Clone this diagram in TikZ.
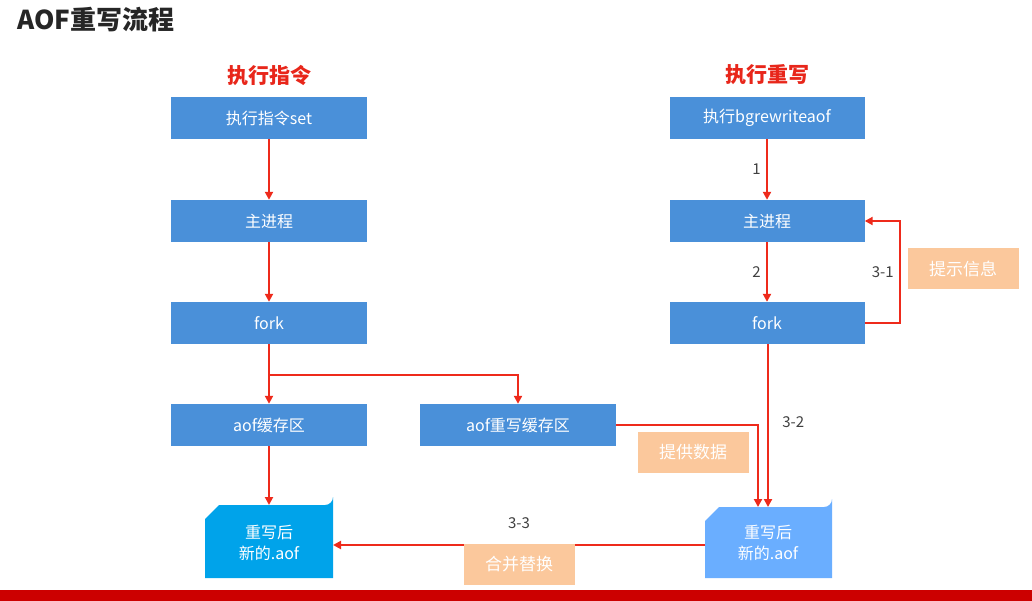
\documentclass[tikz,border=0pt]{standalone}
\usepackage{fontspec}
\setmainfont{Noto Sans CJK SC}
\usetikzlibrary{arrows.meta}
\definecolor{boxblue}{HTML}{4A90D9}
\definecolor{fileA}{HTML}{00A3EA}
\definecolor{fileB}{HTML}{6AAEFF}
\definecolor{arr}{HTML}{EE2A1B}
\definecolor{tag}{HTML}{FBC89C}
\definecolor{hdr}{HTML}{E8261A}
\begin{document}
\begin{tikzpicture}[x=1pt,y=-1pt,
  bx/.style={fill=boxblue,text=white,minimum width=196pt,minimum height=42pt,inner sep=0pt,font=\fontsize{16}{18}\selectfont},
  tg/.style={fill=tag,text=white,minimum width=111pt,minimum height=41pt,inner sep=0pt,font=\fontsize{17}{19}\selectfont},
  ar/.style={draw=arr,line width=2pt,-{Triangle[length=8pt,width=8pt]}},
  lb/.style={font=\fontsize{15}{17}\selectfont,text=black!75}]
\fill[white] (0,0) rectangle (1032,601);
\fill[red!80!black] (0,590) rectangle (1032,601);
\node[anchor=west,font=\bfseries\fontsize{26}{28}\selectfont,text=black!85] (title) at (14,20) {AOF重写流程};
\node[font=\bfseries\fontsize{21}{23}\selectfont,text=hdr] (h1) at (269,75) {执行指令};
\node[font=\bfseries\fontsize{21}{23}\selectfont,text=hdr] (h2) at (767,75) {执行重写};
\node[bx] (a1) at (269,118) {执行指令set};
\node[bx] (a2) at (269,221) {主进程};
\node[bx] (a3) at (269,323) {fork};
\node[bx] (a4) at (269,425) {aof缓存区};
\node[bx] (m) at (518,425) {aof重写缓存区};
\node[bx,minimum width=195pt] (b1) at (767,118) {执行bgrewriteaof};
\node[bx,minimum width=195pt] (b2) at (767,221) {主进程};
\node[bx,minimum width=195pt] (b3) at (767,323) {fork};
% files
\fill[fileA] (205,519) -- (219,505) -- (325,505) arc (90:0:8) -- (333,578) -- (205,578) -- cycle;
\node[text=white,align=center,font=\fontsize{16}{21}\selectfont] (fa) at (269,543) {重写后\\新的.aof};
\fill[fileB] (705,521) -- (719,507) -- (824,507) arc (90:0:8) -- (832,578) -- (705,578) -- cycle;
\node[text=white,align=center,font=\fontsize{16}{21}\selectfont] (fb) at (768,543) {重写后\\新的.aof};
\coordinate (faE) at (333,545);
\coordinate (fbW) at (705,545);
\coordinate (faN) at (269,505);
\coordinate (fbN1) at (758,507);
\coordinate (fbN2) at (768,507);
% arrows
\draw[ar] (a1) -- (a2);
\draw[ar] (a2) -- (a3);
\draw[ar] (a3) -- (a4);
\draw[ar] (a4) -- (faN);
\draw[ar] (a3.south) -- (269,375) -| (m.north);
\draw[ar] (b1) -- node[lb,left,xshift=-2pt]{1} (b2);
\draw[ar] (b2) -- node[lb,left,xshift=-2pt]{2} (b3);
\draw[ar] (b3.east) -- (900,323) -- node[lb,left,xshift=-2pt,pos=0.5]{3-1} (900,221) -- (b2.east);
\draw[ar] (b3.south -| fbN2) -- node[lb,right,xshift=10pt,pos=0.48]{3-2} (fbN2);
\draw[ar] (m.east) -- (758,425) -- (fbN1);
\draw[ar] (fbW) -- node[lb,above,yshift=12pt]{3-3} (faE);
% tags
\node[tg] (t1) at (963,269) {提示信息};
\node[tg] (t2) at (693,452) {提供数据};
\node[tg] (t3) at (519,564) {合并替换};
\end{tikzpicture}
\end{document}
